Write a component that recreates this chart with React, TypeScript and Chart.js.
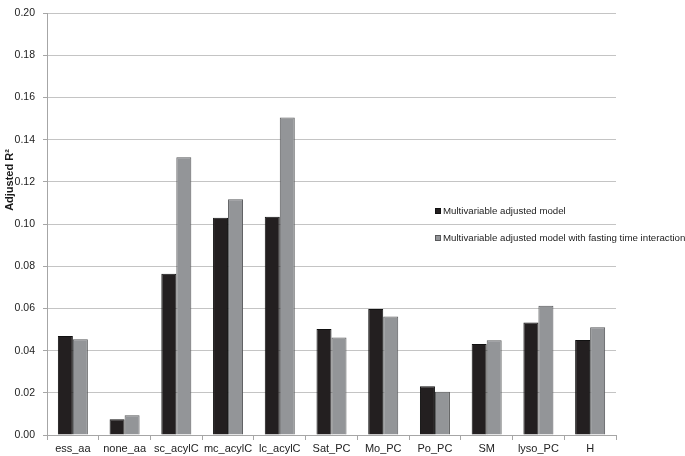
import React, { useEffect, useRef } from "react";
import { Chart, registerables } from "chart.js";

Chart.register(...registerables);

const categories = ["ess_aa", "none_aa", "sc_acylC", "mc_acylC", "lc_acylC", "Sat_PC", "Mo_PC", "Po_PC", "SM", "lyso_PC", "H"];
const modelValues = [0.047, 0.0075, 0.0765, 0.103, 0.1035, 0.0503, 0.0598, 0.0231, 0.0431, 0.0533, 0.0451];
const fastingValues = [0.0454, 0.0094, 0.1317, 0.1118, 0.1506, 0.0462, 0.0562, 0.0205, 0.0449, 0.0613, 0.0511];
const seriesLabels = ["Multivariable adjusted model", "Multivariable adjusted model with fasting time interaction"];
const yTitle = "Adjusted R²";

const FONT = '"Liberation Sans", Arial, sans-serif';

const overlayPlugin = {
  id: "overlay",
  afterDraw(chart: any) {
    const ctx = chart.ctx as CanvasRenderingContext2D;
    ctx.save();
    // y-axis title
    ctx.fillStyle = "#1a1a1a";
    ctx.font = `bold 11px ${FONT}`;
    ctx.translate(10, 180);
    ctx.rotate(-Math.PI / 2);
    ctx.textAlign = "center";
    ctx.textBaseline = "middle";
    ctx.fillText(yTitle, 0, 0);
    ctx.restore();

    // legend
    ctx.save();
    ctx.font = `9.7px ${FONT}`;
    ctx.textBaseline = "middle";
    ctx.textAlign = "left";
    const ys = [211, 238];
    chart.data.datasets.forEach((ds: any, i: number) => {
      const y = ys[i];
      ctx.fillStyle = ds.backgroundColor;
      ctx.fillRect(435, y - 3, 6, 6);
      ctx.strokeStyle = ds.borderColor;
      ctx.lineWidth = 1;
      ctx.strokeRect(435.5, y - 2.5, 5, 5);
      ctx.fillStyle = "#222222";
      ctx.fillText(ds.label, 443, y + 0.5);
    });
    ctx.restore();
  },
};

export default function App() {
  const ref = useRef<HTMLCanvasElement | null>(null);
  useEffect(() => {
    if (!ref.current) return;
    const chart = new Chart(ref.current, {
      type: "bar",
      data: {
        labels: categories,
        datasets: [
          {
            label: seriesLabels[0],
            data: modelValues,
            backgroundColor: "#231f20",
            borderColor: "#111111",
            borderWidth: 1,
            categoryPercentage: 0.58,
            barPercentage: 1.0,
          },
          {
            label: seriesLabels[1],
            data: fastingValues,
            backgroundColor: "#939598",
            borderColor: "#58595b",
            borderWidth: 1,
            categoryPercentage: 0.58,
            barPercentage: 1.0,
          },
        ],
      },
      options: {
        animation: false,
        responsive: false,
        maintainAspectRatio: false,
        devicePixelRatio: 1,
        layout: { padding: { top: 0, right: 69, left: 0, bottom: 0 } },
        plugins: {
          legend: { display: false },
          tooltip: { enabled: false },
          title: { display: false },
        },
        scales: {
          x: {
            afterFit(scale: any) {
              scale.height = 21;
            },
            grid: {
              display: true,
              drawOnChartArea: false,
              offset: true,
              tickLength: 5,
              color: "#a6a6a6",
            },
            border: { display: true, color: "#a6a6a6" },
            ticks: {
              color: "#222222",
              font: { family: FONT, size: 11, lineHeight: 1.2 },
              padding: 2,
              maxRotation: 0,
              autoSkip: false,
            },
          },
          y: {
            min: 0,
            max: 0.2,
            afterFit(scale: any) {
              scale.width = 47;
            },
            grid: {
              color: "#c4c4c4",
              tickLength: 4,
              tickColor: "#a6a6a6",
            },
            border: { display: true, color: "#a6a6a6" },
            ticks: {
              stepSize: 0.02,
              color: "#222222",
              padding: 8,
              font: { family: FONT, size: 10.5, lineHeight: 1 },
              callback: (v: any) => Number(v).toFixed(2),
            },
          },
        },
      },
      plugins: [overlayPlugin],
    });
    return () => chart.destroy();
  }, []);
  return (
    <div style={{ position: "absolute", left: 0, top: 0, width: 685, height: 456, background: "#ffffff" }}>
      <canvas ref={ref} width={685} height={456} style={{ width: 685, height: 456, display: "block" }} />
    </div>
  );
}
